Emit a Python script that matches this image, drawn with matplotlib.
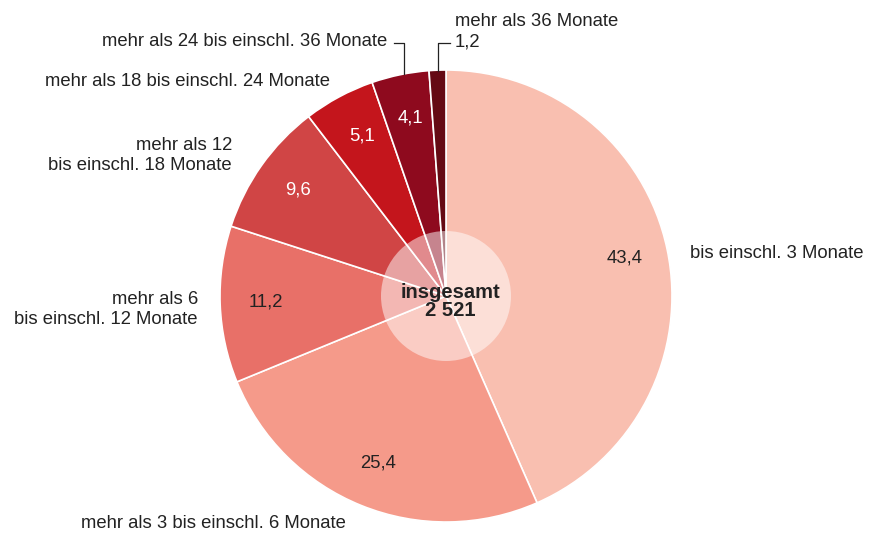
import matplotlib
matplotlib.use("Agg")
import matplotlib.pyplot as plt
from matplotlib.patches import Circle

categories = ["bis einschl. 3 Monate",
              "mehr als 3 bis einschl. 6 Monate",
              "mehr als 6\nbis einschl. 12 Monate",
              "mehr als 12\nbis einschl. 18 Monate",
              "mehr als 18 bis einschl. 24 Monate",
              "mehr als 24 bis einschl. 36 Monate",
              "mehr als 36 Monate"]
values = [43.4, 25.4, 11.2, 9.6, 5.1, 4.1, 1.2]
value_labels = ["43,4", "25,4", "11,2", "9,6", "5,1", "4,1", "1,2"]
total_label = ["insgesamt", "2 521"]
colors = ["#F9BFB0", "#F59A8A", "#E87068", "#D04545", "#C4151C", "#8E0A1E", "#650A14"]

plt.rcParams['font.family'] = ['Liberation Sans', 'DejaVu Sans']
W, H = 869, 534
fig = plt.figure(figsize=(W / 100, H / 100), dpi=100)
ax = fig.add_axes([0, 0, 1, 1])

def Y(y):
    return H - y

cx, cy, r = 446, Y(296), 226
ax.pie(values, colors=colors, startangle=90, counterclock=False,
       center=(cx, cy), radius=r, frame=True,
       wedgeprops=dict(edgecolor='white', linewidth=1.2))
ax.set_xlim(0, W)
ax.set_ylim(0, H)
ax.set_aspect('equal')
ax.axis('off')

ax.add_patch(Circle((cx, cy), 65, facecolor='white', alpha=0.5, edgecolor='none', zorder=5))
ax.text(450, Y(292), total_label[0], ha='center', va='center', fontsize=14.5,
        fontweight='bold', color='#222222', zorder=6)
ax.text(450, Y(311), total_label[1], ha='center', va='center', fontsize=14.5,
        fontweight='bold', color='#222222', zorder=6)

fs = 13.3
tc = '#222222'
# value labels
vpos = [(625, 258), (378, 463), (266, 302), (298, 190), (362, 136), (410, 118)]
vcol = [tc, tc, tc, 'white', 'white', 'white']
for (x, y), lab, c in zip(vpos, value_labels[:6], vcol):
    ax.text(x, Y(y), lab, ha='center', va='center', fontsize=fs, color=c, zorder=4)

def multiline(x, y, label, ha, step=19.5):
    for i, line in enumerate(label.split("\n")):
        ax.text(x, Y(y + i * step), line, ha=ha, va='center', fontsize=fs, color=tc)

# category labels
multiline(690, 253, categories[0], 'left')
multiline(213, 524, categories[1], 'center')
multiline(198, 300, categories[2], 'right')
multiline(232, 146, categories[3], 'right')
multiline(330, 81, categories[4], 'right')
multiline(387, 42, categories[5], 'right')
multiline(455, 22, categories[6], 'left')
multiline(455, 42, value_labels[6], 'left')

# leader lines
ax.plot([394, 404, 404], [Y(43), Y(43), Y(74)], color=tc, lw=0.9, zorder=3)
ax.plot([450, 438, 438], [Y(43), Y(43), Y(71)], color=tc, lw=0.9, zorder=3)

fig.savefig("out.png", dpi=100)
